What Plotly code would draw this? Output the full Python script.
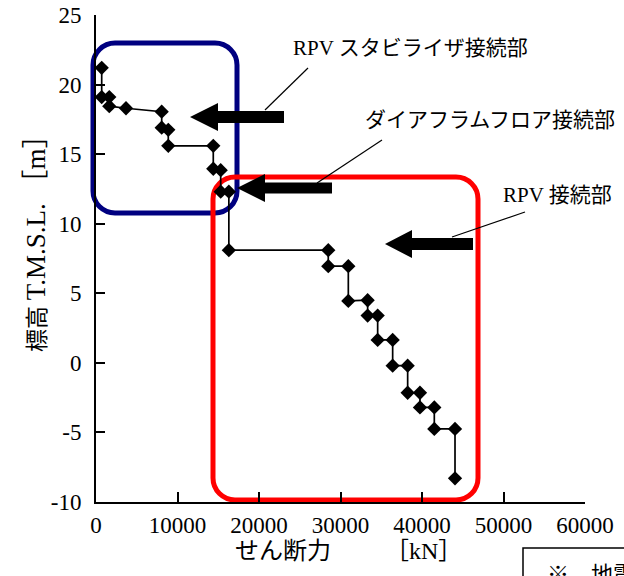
import plotly.graph_objects as go

# ---- data ----
shear_kN = [700, 700, 1630, 1630, 3680, 8060, 8060, 8870, 8870, 14390, 14390,
            15300, 15300, 16300, 16300, 28500, 28500, 30960, 30960, 33330, 33330,
            34560, 34560, 36400, 36400, 38240, 38240, 39750, 39750, 41510, 41510,
            44050, 44050]
elev_m = [21.2, 19.1, 19.1, 18.45, 18.3, 18.05, 16.9, 16.75, 15.6, 15.6, 13.95,
          13.85, 12.3, 12.3, 8.1, 8.1, 6.95, 6.95, 4.45, 4.5, 3.4, 3.4, 1.65, 1.65,
          -0.2, -0.2, -2.15, -2.15, -3.2, -3.2, -4.75, -4.75, -8.3]

x_ticks = [0, 10000, 20000, 30000, 40000, 50000, 60000]
x_ticktext = ["0", "10000", "20000", "30000", "40000", "50000", "60000"]
y_ticks = [-10, -5, 0, 5, 10, 15, 20, 25]
y_ticktext = ["-10", "-5", "0", "5", "10", "15", "20", "25"]

labels = ["RPV スタビライザ接続部", "ダイアフラムフロア接続部", "RPV 接続部"]
x_title = "せん断力　　 ［kN］"
y_title_cjk = "標高"
y_title_latin = "T.M.S.L. ［m］"
note_text = "※　地震"

FONT = "Liberation Serif, Times New Roman, Noto Sans CJK JP, serif"

W, H = 624, 576
L, R, T, B = 96, 585, 15, 502


def px(x):
    return (x - L) / (R - L)


def py(y):
    return (B - y) / (B - T)


def pt(x, y):
    return f"{px(x):.5f},{py(y):.5f}"


def rrect(l, t, r, b, rad):
    k = 0.5523 * rad
    return (f"M {pt(l+rad, t)} L {pt(r-rad, t)} "
            f"C {pt(r-rad+k, t)} {pt(r, t+rad-k)} {pt(r, t+rad)} "
            f"L {pt(r, b-rad)} "
            f"C {pt(r, b-rad+k)} {pt(r-rad+k, b)} {pt(r-rad, b)} "
            f"L {pt(l+rad, b)} "
            f"C {pt(l+rad-k, b)} {pt(l, b-rad+k)} {pt(l, b-rad)} "
            f"L {pt(l, t+rad)} "
            f"C {pt(l, t+rad-k)} {pt(l+rad-k, t)} {pt(l+rad, t)} Z")


def arrow(tx, ty, hl, hh, sh, ex):
    return (f"M {pt(tx, ty)} L {pt(tx+hl, ty-hh)} L {pt(tx+hl, ty-sh)} "
            f"L {pt(ex, ty-sh)} L {pt(ex, ty+sh)} L {pt(tx+hl, ty+sh)} "
            f"L {pt(tx+hl, ty+hh)} Z")


fig = go.Figure()
fig.add_trace(go.Scatter(
    x=shear_kN, y=elev_m, mode="lines+markers",
    line=dict(color="black", width=1.7),
    marker=dict(symbol="diamond", size=11, color="black"),
    showlegend=False, cliponaxis=False,
))

shapes = []
shapes.append(dict(type="path", xref="paper", yref="paper", layer="below",
                   path=rrect(93, 43, 237, 213, 22),
                   line=dict(color="#000080", width=5)))
shapes.append(dict(type="path", xref="paper", yref="paper", layer="below",
                   path=rrect(213, 177, 478, 500, 22),
                   line=dict(color="#ff0000", width=5)))
for a in [(190, 117, 28, 14, 6, 284), (237, 188, 28, 14, 5.5, 332),
          (385, 244, 27, 14, 6, 473)]:
    shapes.append(dict(type="path", xref="paper", yref="paper",
                       path=arrow(*a), fillcolor="black",
                       line=dict(color="black", width=0)))
for (x0, y0, x1, y1) in [(308, 68, 265, 110), (382, 140, 317, 183),
                         (525, 212, 452, 237)]:
    shapes.append(dict(type="line", xref="paper", yref="paper",
                       x0=px(x0), y0=py(y0), x1=px(x1), y1=py(y1),
                       line=dict(color="black", width=1.2)))
# note box (cut off at the page edge)
shapes.append(dict(type="rect", xref="paper", yref="paper",
                   x0=px(523), y0=py(600), x1=px(700), y1=py(548),
                   line=dict(color="black", width=1.5)))

annotations = []
for text, (cx, cy) in zip(labels, [(410, 48), (490, 120), (557, 195)]):
    annotations.append(dict(text=text, xref="paper", yref="paper",
                            x=px(cx), y=py(cy), xanchor="center", yanchor="middle",
                            showarrow=False, font=dict(family=FONT, size=21, color="black")))
annotations.append(dict(text=x_title, xref="paper", yref="paper",
                        x=px(233), y=py(551), xanchor="left", yanchor="middle",
                        showarrow=False, font=dict(family=FONT, size=24, color="black")))
annotations.append(dict(text=f"{y_title_cjk} <span style='font-size:27px'>{y_title_latin}</span>",
                        xref="paper", yref="paper", textangle=-90,
                        x=px(36), y=py(237), xanchor="center", yanchor="middle",
                        showarrow=False, font=dict(family=FONT, size=23, color="black")))
annotations.append(dict(text=note_text, xref="paper", yref="paper",
                        x=px(545), y=py(560), xanchor="left", yanchor="top",
                        showarrow=False, font=dict(family=FONT, size=22, color="black")))

fig.update_layout(
    width=W, height=H,
    margin=dict(l=L, r=W - R, t=T, b=H - B, pad=0),
    paper_bgcolor="white", plot_bgcolor="white",
    shapes=shapes, annotations=annotations,
    font=dict(family=FONT, size=23, color="black"),
    xaxis=dict(range=[0, 60000], tickvals=x_ticks, ticktext=x_ticktext,
               ticks="inside", ticklen=10, tickwidth=1.5, tickcolor="black",
               showline=True, linecolor="black", linewidth=2, mirror=False,
               showgrid=False, zeroline=False, ticklabelstandoff=1,
               automargin=False, tickfont=dict(family=FONT, size=23)),
    yaxis=dict(range=[-10, 25], tickvals=y_ticks, ticktext=y_ticktext,
               ticks="inside", ticklen=9, tickwidth=1.5, tickcolor="black",
               showline=True, linecolor="black", linewidth=2, mirror=False,
               showgrid=False, zeroline=False, ticklabelstandoff=8,
               automargin=False, tickfont=dict(family=FONT, size=23)),
)

fig.write_html("out.html", config={"displayModeBar": False},
               post_script="document.body.style.margin='0px';")
